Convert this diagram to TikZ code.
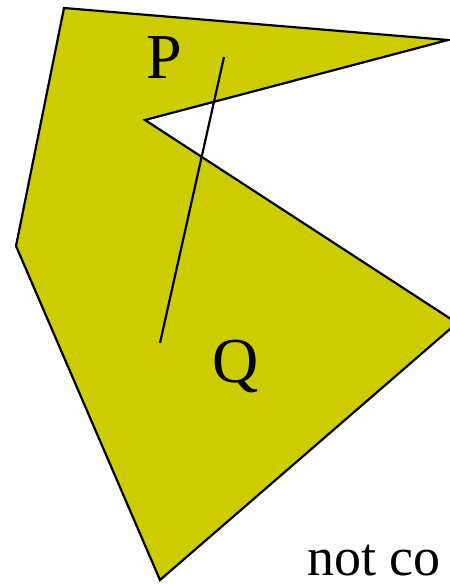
\documentclass[tikz,border=0pt]{standalone}
\usepackage{fontspec}
\setmainfont{Liberation Serif}
\definecolor{PolyYellow}{RGB}{204, 204, 0}
\usetikzlibrary{positioning}

\begin{document}
\begin{tikzpicture}[x=1pt, y=-1pt,
    region/.style={draw=black, line width=2.2pt, fill=PolyYellow, line join=miter},
    segment/.style={draw=black, line width=2.2pt},
    ptlabel/.style={font=\fontsize{64}{64}\selectfont, inner sep=0pt}]
    \useasboundingbox (0,0) rectangle (450,584);
    \clip (0,0) rectangle (450,584);
    % the non-convex region
    \coordinate (v1) at (64,8);
    \coordinate (v2) at (448,40);
    \coordinate (v3) at (145,120);
    \coordinate (v4) at (457,323);
    \coordinate (v5) at (160,580);
    \coordinate (v6) at (16,246);
    \path[region] (v1) -- (v2) -- (v3) -- (v4) -- (v5) -- (v6) -- cycle;
    % segment PQ leaving the region
    \coordinate (p) at (224,57);
    \coordinate (q) at (160,343);
    \draw[segment] (p) -- (q);
    \node[ptlabel] (labelP) at (164,58) {P};
    \node[ptlabel] (labelQ) at (236,366) {Q};
    \node[font=\fontsize{54}{54}\selectfont, inner sep=0pt, anchor=base west] (caption) at (307,575) {not co};
\end{tikzpicture}
\end{document}
